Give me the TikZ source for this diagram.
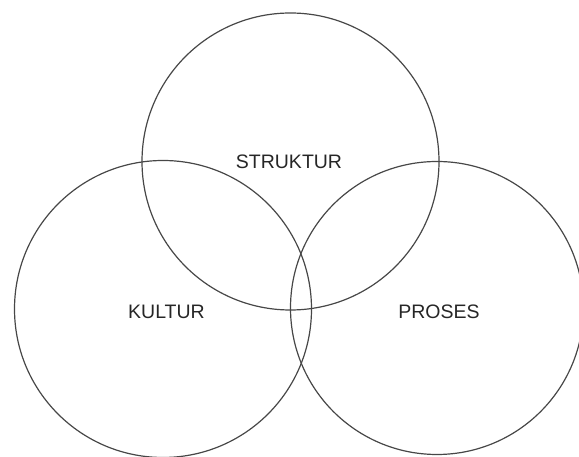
\documentclass[tikz,border=0pt]{standalone}
\usepackage{fontspec}
\setmainfont{Liberation Sans}
\begin{document}
\begin{tikzpicture}[x=1pt,y=1pt,
  ring/.style={draw=black!72,line width=1.2pt},
  lbl/.style={font=\fontsize{19.5}{22}\selectfont,text=black!85,inner sep=0pt}]
\useasboundingbox (0,0) rectangle (579,457);
\clip (0,0) rectangle (579,457);
\draw[ring] (290.5,295.5) circle[radius=148.5];
\draw[ring] (163,148) circle[radius=148.5];
\draw[ring] (437,149) circle[radius=146.5];
\node[lbl] (struktur) at (289,295.5) {STRUKTUR};
\node[lbl] (kultur) at (166.5,145) {KULTUR};
\node[lbl] (proses) at (439,145) {PROSES};
\end{tikzpicture}
\end{document}
